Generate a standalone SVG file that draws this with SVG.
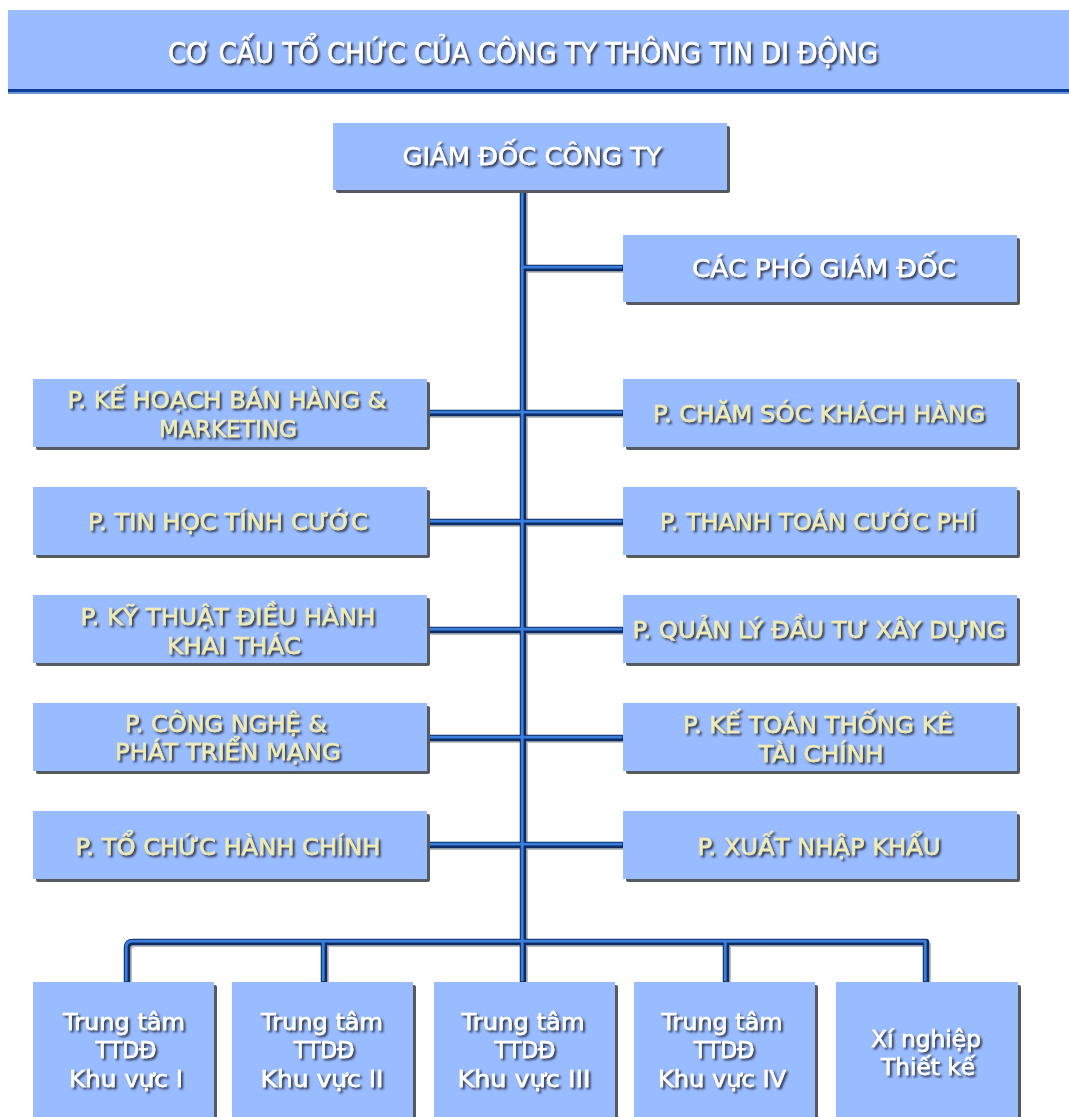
<svg xmlns="http://www.w3.org/2000/svg" xmlns:xlink="http://www.w3.org/1999/xlink" width="1069" height="1117" viewBox="0 0 1069 1117">
  <defs>
    <style>
      .box { fill: #99bbff; }
      .boxsh { fill: #555a60; }
      .t { font-family: "DejaVu Sans", Verdana, sans-serif; text-anchor: middle; filter: url(#txtsh); stroke-width: 0.55; paint-order: stroke; }
      .w { fill: #ffffff; stroke: #ffffff; }
      .c { fill: #efebb6; stroke: #efebb6; }
      .f23 { font-size: 23.5px; }
      .f24 { font-size: 25px; }
      .dark { fill: none; stroke: #0c2c63; stroke-width: 6.5; stroke-linejoin: round; }
      .lite { fill: none; stroke: #3a7fde; stroke-width: 2.8; stroke-linejoin: round; }
      .shade { fill: none; stroke: #8a8a8a; stroke-width: 5; stroke-linejoin: round; opacity: 0.55; }
    </style>
    <filter id="txtsh" x="-10%" y="-40%" width="120%" height="180%">
      <feGaussianBlur in="SourceAlpha" stdDeviation="1.2" result="b"/>
      <feOffset in="b" dx="2" dy="2" result="o"/>
      <feFlood flood-color="#1a1e2a" flood-opacity="0.85"/>
      <feComposite in2="o" operator="in" result="s"/>
      <feMerge>
        <feMergeNode in="s"/>
        <feMergeNode in="SourceGraphic"/>
      </feMerge>
    </filter>
    <!-- connector geometry, drawn three times for the tube look -->
    <g id="wires">
      <path d="M523 190 V982"/>
      <path d="M523 268 H623"/>
      <path d="M427 413 H623"/>
      <path d="M427 522 H623"/>
      <path d="M427 630 H623"/>
      <path d="M427 738 H623"/>
      <path d="M427 845 H623"/>
      <path d="M127 982 V948 Q127 942 133 942 H926 V982"/>
      <path d="M324 942 V982"/>
      <path d="M726 942 V982"/>
    </g>
  </defs>

  <rect width="1069" height="1117" fill="#ffffff"/>

  <!-- title band -->
  <g id="title">
    <rect x="8" y="10" width="1061" height="79" class="box"/>
    <rect x="8" y="89" width="1061" height="3" fill="#0a3f9a"/>
    <rect x="8" y="92" width="1061" height="2" fill="#6f96d8"/>
    <text class="t w" x="523" y="63" font-size="28" textLength="710" lengthAdjust="spacingAndGlyphs">CƠ CẤU TỔ CHỨC CỦA CÔNG TY THÔNG TIN DI ĐỘNG</text>
  </g>

  <!-- connectors -->
  <g id="connectors">
    <use xlink:href="#wires" class="shade" transform="translate(2.5,2.5)"/>
    <use xlink:href="#wires" class="dark"/>
    <use xlink:href="#wires" class="lite" transform="translate(-0.8,-0.8)"/>
  </g>

  <!-- director -->
  <g id="giam-doc">
    <rect x="336" y="126" width="394" height="67" rx="2" class="boxsh"/>
    <rect x="333" y="123" width="394" height="67" class="box"/>
    <text class="t w f24" x="532" y="165" textLength="259" lengthAdjust="spacingAndGlyphs">GIÁM ĐỐC CÔNG TY</text>
  </g>

  <g id="pho-giam-doc">
    <rect x="626" y="238" width="394" height="67" rx="2" class="boxsh"/>
    <rect x="623" y="235" width="394" height="67" class="box"/>
    <text class="t w f24" x="824" y="277" textLength="264" lengthAdjust="spacingAndGlyphs">CÁC PHÓ GIÁM ĐỐC</text>
  </g>

  <!-- left departments -->
  <g id="ke-hoach">
    <rect x="36" y="382" width="394" height="68" rx="2" class="boxsh"/>
    <rect x="33" y="379" width="394" height="68" class="box"/>
    <text class="t c f23" x="227" y="408" textLength="319" lengthAdjust="spacingAndGlyphs">P. KẾ HOẠCH BÁN HÀNG &amp;</text>
    <text class="t c f23" x="228" y="437" textLength="138" lengthAdjust="spacingAndGlyphs">MARKETING</text>
  </g>

  <g id="tin-hoc">
    <rect x="36" y="490" width="394" height="68" rx="2" class="boxsh"/>
    <rect x="33" y="487" width="394" height="68" class="box"/>
    <text class="t c f23" x="228" y="530" textLength="280" lengthAdjust="spacingAndGlyphs">P. TIN HỌC TÍNH CƯỚC</text>
  </g>

  <g id="ky-thuat">
    <rect x="36" y="598" width="394" height="68" rx="2" class="boxsh"/>
    <rect x="33" y="595" width="394" height="68" class="box"/>
    <text class="t c f23" x="228" y="625" textLength="295" lengthAdjust="spacingAndGlyphs">P. KỸ THUẬT ĐIỀU HÀNH</text>
    <text class="t c f23" x="234" y="654" textLength="134" lengthAdjust="spacingAndGlyphs">KHAI THÁC</text>
  </g>

  <g id="cong-nghe">
    <rect x="36" y="706" width="394" height="68" rx="2" class="boxsh"/>
    <rect x="33" y="703" width="394" height="68" class="box"/>
    <text class="t c f23" x="226" y="732" textLength="202" lengthAdjust="spacingAndGlyphs">P. CÔNG NGHỆ &amp;</text>
    <text class="t c f23" x="228" y="760" textLength="226" lengthAdjust="spacingAndGlyphs">PHÁT TRIỂN MẠNG</text>
  </g>

  <g id="to-chuc">
    <rect x="36" y="814" width="394" height="68" rx="2" class="boxsh"/>
    <rect x="33" y="811" width="394" height="68" class="box"/>
    <text class="t c f23" x="228" y="855" textLength="305" lengthAdjust="spacingAndGlyphs">P. TỔ CHỨC HÀNH CHÍNH</text>
  </g>

  <!-- right departments -->
  <g id="cham-soc">
    <rect x="626" y="382" width="394" height="68" rx="2" class="boxsh"/>
    <rect x="623" y="379" width="394" height="68" class="box"/>
    <text class="t c f23" x="819" y="422" textLength="332" lengthAdjust="spacingAndGlyphs">P. CHĂM SÓC KHÁCH HÀNG</text>
  </g>

  <g id="thanh-toan">
    <rect x="626" y="490" width="394" height="68" rx="2" class="boxsh"/>
    <rect x="623" y="487" width="394" height="68" class="box"/>
    <text class="t c f23" x="818" y="530" textLength="316" lengthAdjust="spacingAndGlyphs">P. THANH TOÁN CƯỚC PHÍ</text>
  </g>

  <g id="quan-ly">
    <rect x="626" y="598" width="394" height="68" rx="2" class="boxsh"/>
    <rect x="623" y="595" width="394" height="68" class="box"/>
    <text class="t c f23" x="819" y="638" textLength="373" lengthAdjust="spacingAndGlyphs">P. QUẢN LÝ ĐẦU TƯ XÂY DỰNG</text>
  </g>

  <g id="ke-toan">
    <rect x="626" y="706" width="394" height="68" rx="2" class="boxsh"/>
    <rect x="623" y="703" width="394" height="68" class="box"/>
    <text class="t c f23" x="818" y="733" textLength="270" lengthAdjust="spacingAndGlyphs">P. KẾ TOÁN THỐNG KÊ</text>
    <text class="t c f23" x="821" y="762" textLength="125" lengthAdjust="spacingAndGlyphs">TÀI CHÍNH</text>
  </g>

  <g id="xuat-nhap">
    <rect x="626" y="814" width="394" height="68" rx="2" class="boxsh"/>
    <rect x="623" y="811" width="394" height="68" class="box"/>
    <text class="t c f23" x="819" y="855" textLength="243" lengthAdjust="spacingAndGlyphs">P. XUẤT NHẬP KHẨU</text>
  </g>

  <!-- regional centres -->
  <g id="kv1">
    <rect x="36" y="985" width="181" height="140" rx="2" class="boxsh"/>
    <rect x="33" y="982" width="181" height="140" class="box"/>
    <text class="t w f23" x="124" y="1030" textLength="122" lengthAdjust="spacingAndGlyphs">Trung tâm</text>
    <text class="t w f23" x="126" y="1058" textLength="61" lengthAdjust="spacingAndGlyphs">TTDĐ</text>
    <text class="t w f23" x="126" y="1087" textLength="114" lengthAdjust="spacingAndGlyphs">Khu vực I</text>
  </g>

  <g id="kv2">
    <rect x="235" y="985" width="181" height="140" rx="2" class="boxsh"/>
    <rect x="232" y="982" width="181" height="140" class="box"/>
    <text class="t w f23" x="322" y="1030" textLength="122" lengthAdjust="spacingAndGlyphs">Trung tâm</text>
    <text class="t w f23" x="324" y="1058" textLength="61" lengthAdjust="spacingAndGlyphs">TTDĐ</text>
    <text class="t w f23" x="322" y="1087" textLength="123" lengthAdjust="spacingAndGlyphs">Khu vực II</text>
  </g>

  <g id="kv3">
    <rect x="437" y="985" width="181" height="140" rx="2" class="boxsh"/>
    <rect x="434" y="982" width="181" height="140" class="box"/>
    <text class="t w f23" x="523" y="1030" textLength="123" lengthAdjust="spacingAndGlyphs">Trung tâm</text>
    <text class="t w f23" x="525" y="1058" textLength="61" lengthAdjust="spacingAndGlyphs">TTDĐ</text>
    <text class="t w f23" x="524" y="1087" textLength="133" lengthAdjust="spacingAndGlyphs">Khu vực III</text>
  </g>

  <g id="kv4">
    <rect x="637" y="985" width="181" height="140" rx="2" class="boxsh"/>
    <rect x="634" y="982" width="181" height="140" class="box"/>
    <text class="t w f23" x="722" y="1030" textLength="121" lengthAdjust="spacingAndGlyphs">Trung tâm</text>
    <text class="t w f23" x="724" y="1058" textLength="61" lengthAdjust="spacingAndGlyphs">TTDĐ</text>
    <text class="t w f23" x="722" y="1087" textLength="128" lengthAdjust="spacingAndGlyphs">Khu vực IV</text>
  </g>

  <g id="thiet-ke">
    <rect x="839" y="985" width="182" height="140" rx="2" class="boxsh"/>
    <rect x="836" y="982" width="182" height="140" class="box"/>
    <text class="t w f23" x="926" y="1047" textLength="110" lengthAdjust="spacingAndGlyphs">Xí nghiệp</text>
    <text class="t w f23" x="928" y="1075" textLength="94" lengthAdjust="spacingAndGlyphs">Thiết kế</text>
  </g>
</svg>
